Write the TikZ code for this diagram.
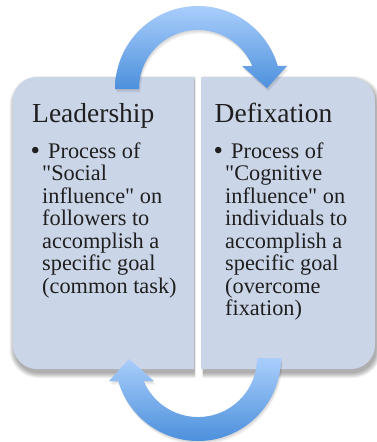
\documentclass[tikz,border=0pt]{standalone}
\usepackage{fontspec}
\setmainfont{Liberation Serif}
\newfontfamily\plainserif{Liberation Serif}
\definecolor{boxfill}{RGB}{203,213,232}
\definecolor{arrtop}{RGB}{170,206,252}
\definecolor{arrbot}{RGB}{76,144,220}
\newcommand{\sq}{{\plainserif"}}
\begin{document}
\begin{tikzpicture}[x=1pt,y=-1pt,
  titletext/.style={anchor=base west,inner sep=0pt,font=\fontsize{27.5}{30}\selectfont,text=black!88},
  bodytext/.style={anchor=base west,inner sep=0pt,font=\fontsize{22.3}{22.5}\selectfont,text=black!88},
  bullettext/.style={anchor=base west,inner sep=0pt,font=\fontsize{27}{22.5}\selectfont,text=black!88},
  boxshape/.style={fill=boxfill},
  boxshadow/.style={fill=black,opacity=0.06},
  arrowshape/.style={top color=arrtop,bottom color=arrbot},
  arrowshadow/.style={fill=black,opacity=0.05},
]
\useasboundingbox[fill=white] (0,0) rectangle (376,442);

% box shadows
\foreach \d in {5,4,3,2,1,0} {
  \path[boxshadow,shift={(1.5,4)}] (193+0.2*\d,77-\d) -- (37,77-\d)
    arc[start angle=270,end angle=180,radius=24+\d] -- (13-\d,345)
    arc[start angle=180,end angle=90,radius=24+\d] -- (193+0.2*\d,369+\d) -- cycle;
  \path[boxshadow,shift={(1.5,4)}] (201,77-\d) -- (351,77-\d)
    arc[start angle=270,end angle=360,radius=24+\d] -- (375+\d,345)
    arc[start angle=0,end angle=90,radius=24+\d] -- (201,369+\d) -- cycle;
}

% boxes
\path[boxshape] (194,77) -- (37,77) arc[start angle=270,end angle=180,radius=24]
  -- (13,345) arc[start angle=180,end angle=90,radius=24] -- (194,369) -- cycle;
\path[boxshape] (201,77) -- (351,77) arc[start angle=270,end angle=360,radius=24]
  -- (375,345) arc[start angle=0,end angle=90,radius=24] -- (201,369) -- cycle;

% arrow shadows
\foreach \s in {1,2,3} {
  \path[arrowshadow,shift={(0.5*\s,1.2*\s)}] (115,89) arc[start angle=180,end angle=343.9,radius=83]
    -- (287,66) -- (267,88) -- (242,66) -- (252.3,66)
    arc[start angle=337.1,end angle=180,radius=59] -- cycle;
  \path[arrowshadow,shift={(0.5*\s,1.2*\s)}] (281,358) arc[start angle=0,end angle=163.9,radius=83]
    -- (109,381) -- (129,359) -- (154,381) -- (143.7,381)
    arc[start angle=157.1,end angle=0,radius=59] -- cycle;
}

% arrows
\path[arrowshape] (115,89) arc[start angle=180,end angle=343.9,radius=83]
  -- (287,66) -- (267,88) -- (242,66) -- (252.3,66)
  arc[start angle=337.1,end angle=180,radius=59] -- cycle;
\path[arrowshape] (281,358) arc[start angle=0,end angle=163.9,radius=83]
  -- (109,381) -- (129,359) -- (154,381) -- (143.7,381)
  arc[start angle=157.1,end angle=0,radius=59] -- cycle;

% texts
\node[titletext] (lt) at (32,122.7) {Leadership};
\node[titletext] (rt) at (214.5,122.7) {Defixation};
\node[bullettext] (lbul) at (30.5,159) {•};
\node[bullettext] (rbul) at (213.5,159) {•};
\node[bodytext] (lbody) at (42,158) {\parbox[t]{150pt}{\raggedright\hspace*{6pt}Process of\\
\sq Social\\ influence\sq{} on\\ followers to\\ accomplish a\\ specific goal\\ (common task)}};
\node[bodytext] (rbody) at (225,158) {\parbox[t]{150pt}{\raggedright\hspace*{6pt}Process of\\
\sq Cognitive\\ influence\sq{} on\\ individuals to\\ accomplish a\\ specific goal\\ (overcome\\ fixation)}};
\end{tikzpicture}
\end{document}
